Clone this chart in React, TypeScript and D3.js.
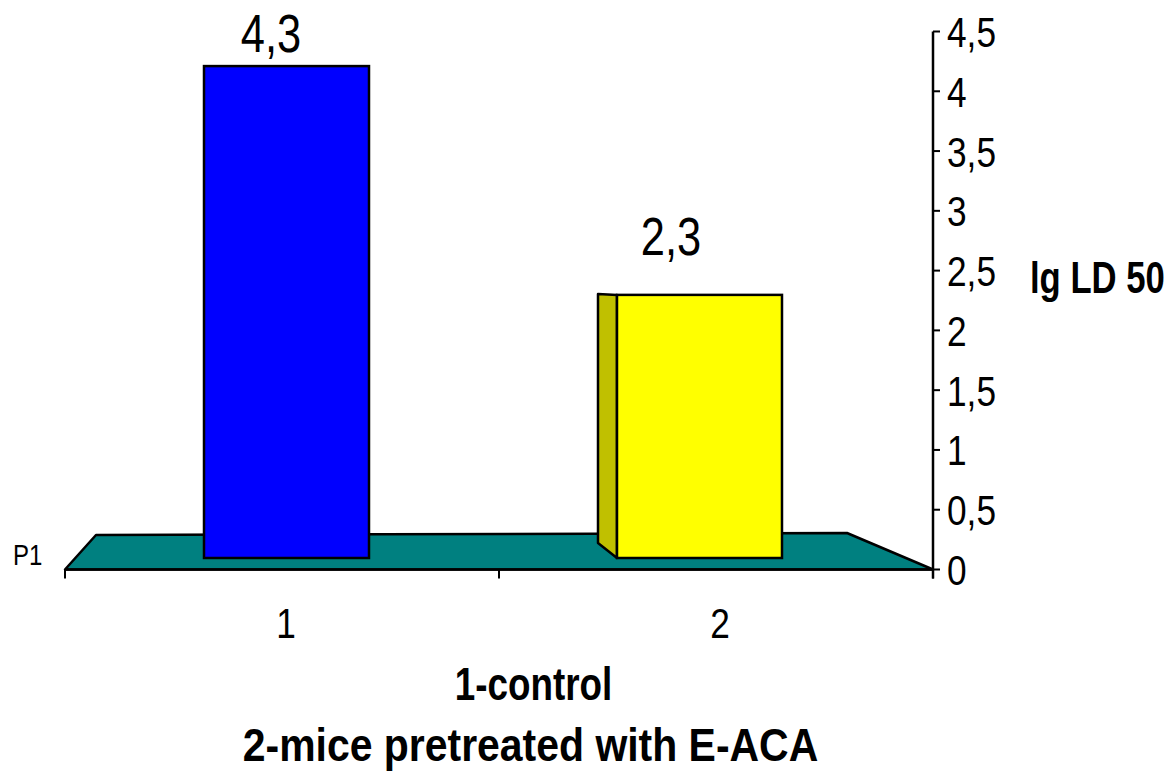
import React from "react";
import * as d3 from "d3";

const categories = ["1", "2"];
const values = [4.3, 2.3];
const valueLabels = ["4,3", "2,3"];
const yTicks = [0, 0.5, 1, 1.5, 2, 2.5, 3, 3.5, 4, 4.5];
const yTickLabels = ["0", "0,5", "1", "1,5", "2", "2,5", "3", "3,5", "4", "4,5"];
const barColors = ["#0000ff", "#ffff00"];
const sideColors = ["#0000a0", "#c0c000"];
const yTitle = "lg LD 50";
const legendLines = ["1-control", "2-mice pretreated with E-ACA"];
const seriesName = "P1";

const W = 1175;
const H = 771;
const FONT = "'Liberation Sans', Arial, sans-serif";
const NARROW = 0.82;

type NTProps = {
  x: number;
  y: number;
  size: number;
  anchor?: "start" | "middle" | "end";
  bold?: boolean;
  sx?: number;
  children: React.ReactNode;
};

function NText({ x, y, size, anchor = "start", bold = false, sx = NARROW, children }: NTProps) {
  return (
    <text
      transform={`translate(${x},${y}) scale(${sx},1)`}
      fontSize={size}
      fontWeight={bold ? "bold" : "normal"}
      textAnchor={anchor}
      fill="#000"
    >
      {children}
    </text>
  );
}

export default function App() {
  const x = d3.scaleBand<string>().domain(categories).range([65, 933]).padding(0);
  const y = d3.scaleLinear().domain([0, 4.5]).range([569.5, 31.5]);
  // projected scales for the 3D bars (front face, label positions)
  const yFront = d3.scaleLinear().domain([0, 4.5]).range([558, 558 - 4.5 * 114.4]);
  const yLabel = d3.scaleLinear().domain([0, 4.5]).range([488.5, 488.5 - 4.5 * 101.5]);
  const vp = 375;
  const kFront = 0.0484;
  const kSide = 0.0557;
  const barW = 165;
  const axisY = y(0);
  const xLeft = x.range()[0];
  const xRight = x.range()[1];

  const floor = [
    [xLeft, axisY],
    [xLeft + 31, 535],
    [847, 533],
    [xRight, axisY],
  ];

  const xTicks = [xLeft, ...categories.slice(1).map((c) => x(c)!), xRight];

  return (
    <svg
      width={W}
      height={H}
      style={{ position: "absolute", left: 0, top: 0, background: "#fff" }}
      fontFamily={FONT}
    >
      <polygon
        points={floor.map((p) => p.join(",")).join(" ")}
        fill="#008080"
        stroke="#000"
        strokeWidth={2.5}
        strokeLinejoin="round"
      />
      {categories.map((c, i) => {
        const center = x(c)! + x.bandwidth() / 2;
        const fc = center + kFront * (vp - center);
        const left = fc - barW / 2;
        const top = yFront(values[i]);
        const bottom = yFront(0);
        const depth = Math.max(0, kSide * (center - vp));
        return (
          <g key={c}>
            {depth > 0 && (
              <polygon
                points={`${left - depth},${top - 1} ${left},${top} ${left},${bottom} ${left - depth},${bottom - 15}`}
                fill={sideColors[i]}
                stroke="#000"
                strokeWidth={2.5}
                strokeLinejoin="round"
              />
            )}
            <rect
              x={left}
              y={top}
              width={barW}
              height={bottom - top}
              fill={barColors[i]}
              stroke="#000"
              strokeWidth={2.5}
            />
          </g>
        );
      })}
      {categories.map((c, i) => {
        const center = x(c)! + x.bandwidth() / 2;
        return (
          <NText
            key={c}
            x={center - 11 - (center - 282) * (34 / 434)}
            y={yLabel(values[i])}
            size={53}
            anchor="middle"
          >
            {valueLabels[i]}
          </NText>
        );
      })}
      <line x1={xLeft} x2={xRight} y1={axisY} y2={axisY} stroke="#000" strokeWidth={2.5} />
      {xTicks.map((t, i) => (
        <line key={i} x1={t} x2={t} y1={axisY} y2={axisY + 9} stroke="#000" strokeWidth={2} />
      ))}
      {categories.map((c) => (
        <NText key={c} x={x(c)! + x.bandwidth() / 2 + 4} y={638} size={43} anchor="middle">
          {c}
        </NText>
      ))}
      <line x1={xRight} x2={xRight} y1={y(4.5)} y2={axisY + 9} stroke="#000" strokeWidth={2.5} />
      {yTicks.map((t, i) => (
        <g key={t}>
          <line x1={xRight} x2={xRight + 7} y1={y(t)} y2={y(t)} stroke="#000" strokeWidth={2} />
          <NText x={xRight + 14} y={y(t) + 15.5} size={43}>
            {yTickLabels[i]}
          </NText>
        </g>
      ))}
      <NText x={1030} y={293} size={45} bold sx={0.77}>
        {yTitle}
      </NText>
      <NText x={13} y={565} size={30} sx={0.8}>
        {seriesName}
      </NText>
      <NText x={533.5} y={700} size={46} bold anchor="middle" sx={0.8}>
        {legendLines[0]}
      </NText>
      <NText x={530.5} y={761} size={46} bold anchor="middle" sx={0.89}>
        {legendLines[1]}
      </NText>
    </svg>
  );
}
